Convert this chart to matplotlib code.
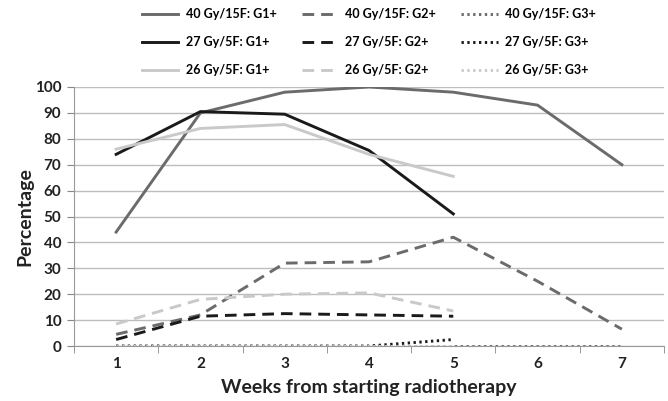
import matplotlib
matplotlib.use("Agg")
import matplotlib.pyplot as plt
import numpy as np

weeks7 = [1, 2, 3, 4, 5, 6, 7]
weeks5 = [1, 2, 3, 4, 5]

g40_g1 = [44, 90, 98, 100, 98, 93, 70]
g40_g2 = [4.5, 12, 32, 32.5, 42, 25, 6.5]
g40_g3 = [0, 0, 0, 0, 0, 0, 0]
g27_g1 = [74, 90.5, 89.5, 75.5, 51]
g27_g2 = [2.5, 11.5, 12.5, 12, 11.5]
g27_g3 = [0, 0, 0, 0, 2.5]
g26_g1 = [76, 84, 85.5, 74, 65.5]
g26_g2 = [8.5, 18, 20, 20.5, 13.5]
g26_g3 = [0, 0, 0, 0, 0]

labels = ["40 Gy/15F: G1+", "40 Gy/15F: G2+", "40 Gy/15F: G3+",
          "27 Gy/5F: G1+", "27 Gy/5F: G2+", "27 Gy/5F: G3+",
          "26 Gy/5F: G1+", "26 Gy/5F: G2+", "26 Gy/5F: G3+"]

plt.rcParams['font.family'] = ['Lato', 'DejaVu Sans']

fig = plt.figure(figsize=(6.68, 4.01), dpi=100)
ax = fig.add_axes([74/668, 1-346/401, (664-74)/668, (346-87)/401])

c40 = '#6b6b6b'
c27 = '#1a1a1a'
c26 = '#c9c9c9'
lw = 2.1
dash = (0, (4, 2.4))
dot = (0, (0.8, 1.2))

series = [
    (weeks7, g40_g1, c40, '-'), (weeks7, g40_g2, c40, dash), (weeks7, g40_g3, c40, dot),
    (weeks5, g27_g1, c27, '-'), (weeks5, g27_g2, c27, dash), (weeks5, g27_g3, c27, dot),
    (weeks5, g26_g1, c26, '-'), (weeks5, g26_g2, c26, dash), (weeks5, g26_g3, c26, dot),
]
handles = []
for (x, y, c, ls), lab in zip(series, labels):
    h, = ax.plot(x, y, color=c, linestyle=ls, lw=lw, label=lab, zorder=3)
    handles.append(h)

ax.set_xlim(0.5, 7.5)
ax.set_ylim(0, 100)
ax.set_yticks(np.arange(0, 101, 10))
ax.set_xticks(weeks7)
ax.set_xticks(np.arange(0.5, 7.6, 1), minor=True)
ax.tick_params(axis='x', which='major', length=0, pad=8)
ax.tick_params(axis='x', which='minor', length=5, color='#888888', direction='out')
ax.tick_params(axis='y', length=5, color='#888888', direction='out', pad=4)
for lab in ax.get_xticklabels() + ax.get_yticklabels():
    lab.set_fontweight('bold')
    lab.set_fontsize(11)
    lab.set_color('#222222')
ax.grid(axis='y', color='#bdbdbd', lw=1, zorder=0)
ax.set_axisbelow(True)
for s in ['top', 'right']:
    ax.spines[s].set_visible(False)
for s in ['left', 'bottom']:
    ax.spines[s].set_color('#999999')
ax.set_ylabel('Percentage', fontsize=14, fontweight='bold', color='#222222', labelpad=1)
ax.set_xlabel('Weeks from starting radiotherapy', fontsize=14, fontweight='bold', color='#222222', labelpad=6)

order = [0, 3, 6, 1, 4, 7, 2, 5, 8]
leg = fig.legend([handles[i] for i in order], [labels[i] for i in order], ncol=3,
                 loc='upper left', bbox_to_anchor=(142/668, 1 - 8/401), frameon=False,
                 prop={'weight': 'bold', 'size': 9}, handlelength=2.9,
                 columnspacing=2.0, labelspacing=1.3, handletextpad=0.6,
                 borderpad=0, borderaxespad=0)

fig.savefig('out.png', dpi=100)
